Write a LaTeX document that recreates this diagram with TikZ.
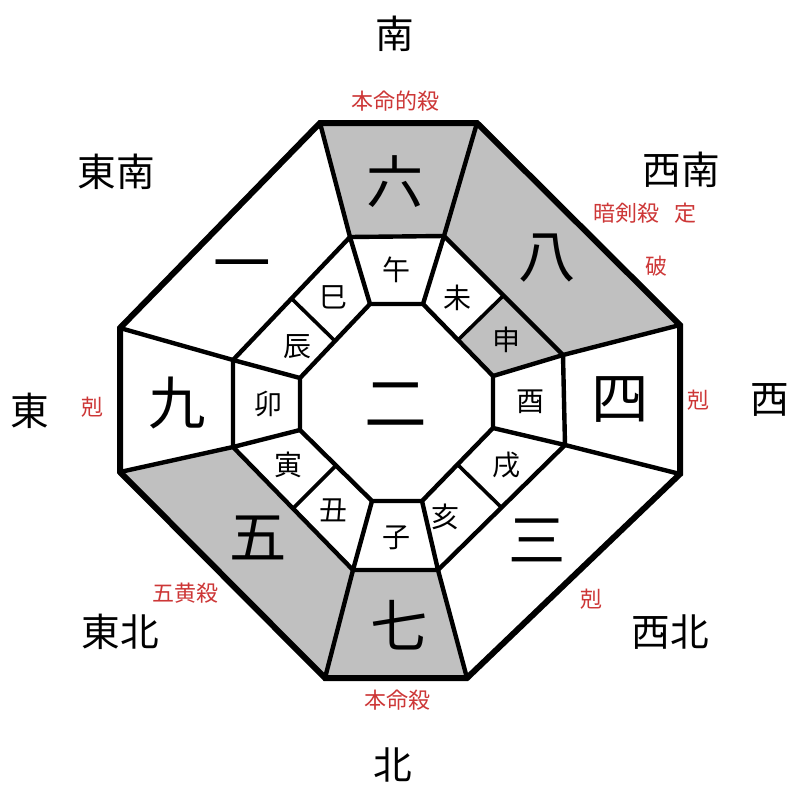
\documentclass[tikz,border=0pt]{standalone}
\usepackage{fontspec}
\usetikzlibrary{calc}
\newfontfamily\cjk{Noto Sans CJK JP}
\definecolor{sectgray}{RGB}{192,192,192}
\definecolor{redlbl}{RGB}{205,55,55}
\begin{document}
\begin{tikzpicture}[x=0.75pt,y=-0.75pt,
  thickline/.style={line width=4.5pt,line join=miter},
  midline/.style={line width=3.3pt,line join=miter},
  thinline/.style={line width=2.7pt},
  bignum/.style={font=\cjk\fontsize{43}{45}\selectfont},
  centernum/.style={font=\cjk\fontsize{47}{49}\selectfont},
  branch/.style={font=\cjk\fontsize{21}{23}\selectfont},
  dirlbl/.style={font=\cjk\fontsize{29}{31}\selectfont},
  redtxt/.style={font=\cjk\fontsize{16.5}{18}\selectfont,text=redlbl}]
\useasboundingbox (0,0) rectangle (800,800);
\fill[white] (0,0) rectangle (800,800);
% outer
\coordinate (O1) at (320,123); \coordinate (O2) at (477,123);
\coordinate (O3) at (680,325); \coordinate (O4) at (680,474);
\coordinate (O5) at (467,678); \coordinate (O6) at (325,678);
\coordinate (O7) at (120,472); \coordinate (O8) at (120,328);
% middle
\coordinate (M1) at (350,237); \coordinate (M2) at (444,236);
\coordinate (M3) at (563,355); \coordinate (M4) at (565,445);
\coordinate (M5) at (438,570); \coordinate (M6) at (353,570);
\coordinate (M7) at (233,447); \coordinate (M8) at (233,360);
% inner
\coordinate (I1) at (370,304); \coordinate (I2) at (423,304);
\coordinate (I3) at (493,376); \coordinate (I4) at (493,428);
\coordinate (I5) at (422,501); \coordinate (I6) at (372,501);
\coordinate (I7) at (300,430); \coordinate (I8) at (300,378);
% midpoints for dividers
\coordinate (A23) at ($(M2)!0.5!(M3)$); \coordinate (B23) at ($(I2)!0.5!(I3)$);
\coordinate (A45) at ($(M4)!0.5!(M5)$); \coordinate (B45) at ($(I4)!0.5!(I5)$);
\coordinate (A67) at ($(M6)!0.5!(M7)$); \coordinate (B67) at ($(I6)!0.5!(I7)$);
\coordinate (A81) at ($(M8)!0.5!(M1)$); \coordinate (B81) at ($(I8)!0.5!(I1)$);
% gray fills
\fill[sectgray] (O1) -- (O2) -- (M2) -- (M1) -- cycle;
\fill[sectgray] (O2) -- (O3) -- (M3) -- (M2) -- cycle;
\fill[sectgray] (O6) -- (O7) -- (M7) -- (M6) -- cycle;
\fill[sectgray] (O5) -- (O6) -- (M6) -- (M5) -- cycle;
\fill[sectgray] (A23) -- (M3) -- (I3) -- (B23) -- cycle;
% spokes outer-middle
\foreach \i in {1,...,8} { \draw[midline] (O\i) -- (M\i); }
% middle octagon
\draw[midline] (M1) -- (M2) -- (M3) -- (M4) -- (M5) -- (M6) -- (M7) -- (M8) -- cycle;
% spokes middle-inner
\foreach \i in {1,...,8} { \draw[midline] (M\i) -- (I\i); }
% inner octagon
\draw[midline] (I1) -- (I2) -- (I3) -- (I4) -- (I5) -- (I6) -- (I7) -- (I8) -- cycle;
% dividers
\draw[thinline] (A23) -- (B23);
\draw[thinline] (A45) -- (B45);
\draw[thinline] (A67) -- (B67);
\draw[thinline] (A81) -- (B81);
% outer octagon
\draw[thickline] (O1) -- (O2) -- (O3) -- (O4) -- (O5) -- (O6) -- (O7) -- (O8) -- cycle;
% big numbers
\node[bignum] (n6) at (395,182) {六};
\node[bignum] (n8) at (547,258) {八};
\node[bignum] (n1) at (242,272) {一};
\node[bignum] (n9) at (177,403) {九};
\node[bignum] (n4) at (620,400) {四};
\node[bignum] (n5) at (258,538) {五};
\node[bignum] (n3) at (537,540) {三};
\node[bignum] (n7) at (399,625) {七};
\node[centernum] (n2) at (396,405) {二};
% branches
\node[branch] (bwu) at (396,270) {午};
\node[branch] (bwei) at (457,298) {未};
\node[branch] (bshen) at (506,340) {申};
\node[branch] (byou) at (530,402) {酉};
\node[branch] (bxu) at (506,465) {戌};
\node[branch] (bhai) at (445,517) {亥};
\node[branch] (bzi) at (396,538) {子};
\node[branch] (bchou) at (333,510) {丑};
\node[branch] (byin) at (288,465) {寅};
\node[branch] (bmao) at (268,404) {卯};
\node[branch] (bchen) at (297,347) {辰};
\node[branch] (bsi) at (333,297) {巳};
% directions
\node[dirlbl] (dS) at (395,34) {南};
\node[dirlbl] (dN) at (393,765) {北};
\node[dirlbl] (dE) at (30,411) {東};
\node[dirlbl] (dW) at (770,400) {西};
\node[dirlbl] (dSE) at (116,172) {東南};
\node[dirlbl] (dSW) at (681,170) {西南};
\node[dirlbl] (dNE) at (120,632) {東北};
\node[dirlbl] (dNW) at (670,632) {西北};
% red labels
\node[redtxt] (r1) at (395,101) {本命的殺};
\node[redtxt] (r2) at (626,213) {暗剣殺};
\node[redtxt] (r3) at (685,213) {定};
\node[redtxt] (r4) at (656,266) {破};
\node[redtxt] (r5) at (92,407) {剋};
\node[redtxt] (r6) at (698,400) {剋};
\node[redtxt] (r7) at (591,599) {剋};
\node[redtxt] (r8) at (185,593) {五黄殺};
\node[redtxt] (r9) at (397,700) {本命殺};
\end{tikzpicture}
\end{document}
